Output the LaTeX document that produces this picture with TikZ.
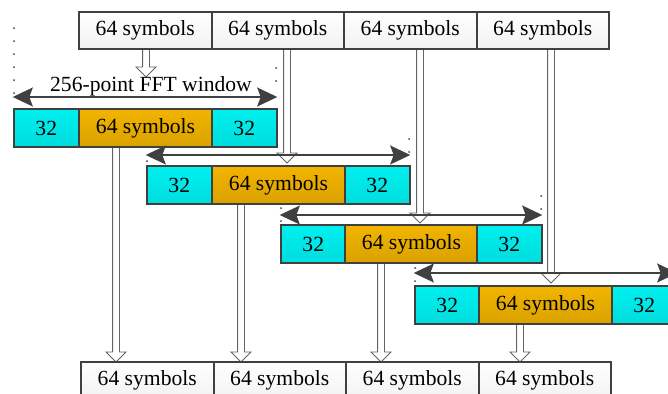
\documentclass[tikz,border=0pt]{standalone}
\usepackage{fontspec}
\setmainfont{Liberation Serif}
\usetikzlibrary{arrows.meta,calc}
\definecolor{bord}{RGB}{64,64,64}
\definecolor{cyanf}{RGB}{0,240,240}
\definecolor{orangef}{RGB}{242,180,0}
\definecolor{grayf}{RGB}{242,242,242}
\definecolor{arrgray}{RGB}{100,100,100}
\tikzset{
  box/.style={draw=bord, line width=1.5pt, minimum height=38*0.75pt, inner sep=0pt, outer sep=0pt,
    font=\fontsize{16.2pt}{19pt}\selectfont, anchor=north west},
  topbox/.style={box, top color=white, bottom color=grayf, minimum width=132.5*0.75pt, minimum height=37*0.75pt},
  cbox/.style={box, top color=cyanf, bottom color=cyanf!92!black, minimum width=64.5*0.75pt},
  obox/.style={box, top color=orangef, bottom color=orangef!90!black, minimum width=133*0.75pt},
  win/.style={draw=bord, line width=2.2pt, {Stealth[length=15pt,width=14pt,inset=2.5pt]}-{Stealth[length=15pt,width=14pt,inset=2.5pt]}, shorten <=-1pt, shorten >=-1pt},
  hollow/.style={draw=arrgray, fill=white, line width=0.7pt, to path={
    let \p1=(\tikztostart), \p2=(\tikztotarget) in
    (\x1-2.6pt,\y1) -- (\x1-2.6pt,\y2+7.5pt) -- (\x1-7.5pt,\y2+7.5pt) -- (\x1,\y2)
    -- (\x1+7.5pt,\y2+7.5pt) -- (\x1+2.6pt,\y2+7.5pt) -- (\x1+2.6pt,\y1)}},
  dots/.style={draw=bord, line width=1.5pt, line cap=round, dash pattern=on 0pt off 13*0.75pt},
}
\begin{document}
\begin{tikzpicture}[x=0.75pt,y=-0.75pt]
\useasboundingbox (0,0) rectangle (668,393);
\clip (0,0) rectangle (668,393);

% dotted boundary marks
\draw[dots] (14,28) -- (14,95);
\draw[dots] (276,68) -- (276,82);
\draw[dots] (147,161) -- (147,162);
\draw[dots] (409,139) -- (409,153);
\draw[dots] (281,208) -- (281,222);
\draw[dots] (541,196) -- (541,210);
\draw[dots] (415,268) -- (415,282);

% coordinates for hollow arrow ends
\coordinate (s1) at (146,49);
\coordinate (e1) at (146,77);
\coordinate (s2) at (287,49);
\coordinate (e2) at (287,163);
\coordinate (s3) at (420,49);
\coordinate (e3) at (420,223);
\coordinate (s4) at (551,49);
\coordinate (e4) at (551,283);
\coordinate (d1) at (116,147);
\coordinate (f1) at (116,362);
\coordinate (d2) at (241,203);
\coordinate (f2) at (241,362);
\coordinate (d3) at (381,262);
\coordinate (f3) at (381,362);
\coordinate (d4) at (520,324);
\coordinate (f4) at (520,362);

% hollow arrows
\draw[hollow] (s1) to (e1);
\draw[hollow] (s2) to (e2);
\draw[hollow] (s3) to (e3);
\draw[hollow] (s4) to (e4);
\draw[hollow] (d1) to (f1);
\draw[hollow] (d2) to (f2);
\draw[hollow] (d3) to (f3);
\draw[hollow] (d4) to (f4);

% top row
\node[topbox] (t1) at (79,12) {64 symbols};
\node[topbox] (t2) at (211.5,12) {64 symbols};
\node[topbox] (t3) at (344,12) {64 symbols};
\node[topbox] (t4) at (476.5,12) {64 symbols};

% row 1
\node[cbox] (a1) at (14,109) {32};
\node[obox] (b1) at (79,109) {64 symbols};
\node[cbox] (c1) at (212,109) {32};
% row 2
\node[cbox] (a2) at (147,166) {32};
\node[obox] (b2) at (212,166) {64 symbols};
\node[cbox] (c2) at (345,166) {32};
% row 3
\node[cbox] (a3) at (281,225) {32};
\node[obox] (b3) at (345,225) {64 symbols};
\node[cbox] (c3) at (477,225) {32};
% row 4
\node[cbox] (a4) at (415,286) {32};
\node[obox] (b4) at (479,286) {64 symbols};
\node[cbox] (c4) at (612,286) {32};

% window arrows
\coordinate (w1l) at (14,97);  \coordinate (w1r) at (276,97);
\coordinate (w2l) at (147,155); \coordinate (w2r) at (409,155);
\coordinate (w3l) at (281,215); \coordinate (w3r) at (541,215);
\coordinate (w4l) at (415,273); \coordinate (w4r) at (676,273);
\draw[win] (w1l) -- (w1r);
\draw[win] (w2l) -- (w2r);
\draw[win] (w3l) -- (w3r);
\draw[win] (w4l) -- (w4r);
\node[font=\fontsize{16.2pt}{19pt}\selectfont, inner sep=0pt] (lbl) at (151,86) {256-point FFT window};

% bottom row
\node[topbox] (u1) at (81,362) {64 symbols};
\node[topbox] (u2) at (213.5,362) {64 symbols};
\node[topbox] (u3) at (346,362) {64 symbols};
\node[topbox] (u4) at (478.5,362) {64 symbols};
\end{tikzpicture}
\end{document}
